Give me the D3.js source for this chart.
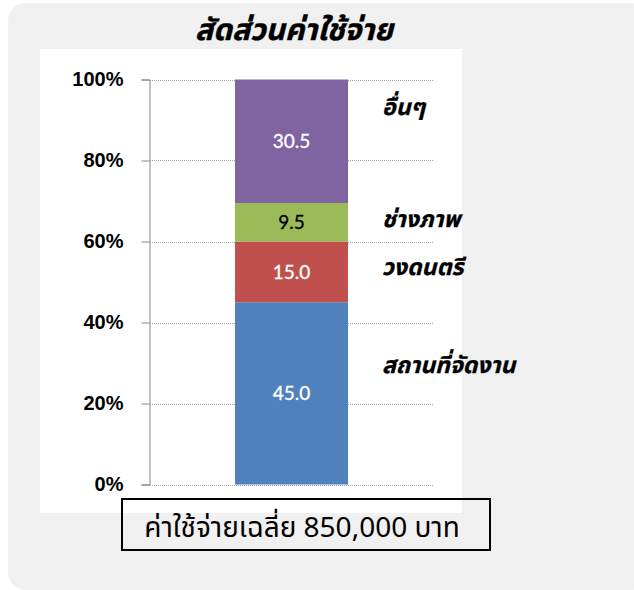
<!DOCTYPE html>
<html>
<head>
<meta charset="utf-8">
<script src="https://cdn.jsdelivr.net/npm/d3@7"></script>
<style>
  html, body { margin: 0; padding: 0; background: #ffffff; }
  svg { display: block; }
</style>
</head>
<body>
<svg id="chart" width="634" height="590"></svg>
<script>
// Expense breakdown, one 100% stacked column
const title = "สัดส่วนค่าใช้จ่าย";
const categories = ["สถานที่จัดงาน", "วงดนตรี", "ช่างภาพ", "อื่นๆ"];
const values = [45.0, 15.0, 9.5, 30.5];
const colors = ["#4F81BD", "#C0504D", "#9BBB59", "#8064A2"];
const valueTextColors = ["#ffffff", "#ffffff", "#000000", "#ffffff"];
const yTicks = [0, 20, 40, 60, 80, 100];
const caption = "ค่าใช้จ่ายเฉลี่ย 850,000 บาท";

// where each category name sits beside the column, in axis units (%)
const nameAt = [27.5, 51.7, 63.7, 91.2];

const thaiFont = "Tahoma, 'Noto Sans Thai', 'Noto Sans', 'DejaVu Sans', sans-serif";

const svg = d3.select("#chart");

// rounded grey panel and white plot area
svg.append("rect")
  .attr("x", 8).attr("y", 3).attr("width", 640).attr("height", 587)
  .attr("rx", 18).attr("ry", 18)
  .attr("fill", "#f0f0f0");
svg.append("rect")
  .attr("x", 40).attr("y", 49).attr("width", 422).attr("height", 464)
  .attr("fill", "#ffffff");

svg.append("text")
  .attr("x", 294).attr("y", 40)
  .attr("text-anchor", "middle")
  .attr("font-family", thaiFont)
  .attr("font-size", 30).attr("font-weight", "bold").attr("font-style", "italic")
  .attr("fill", "#000")
  .attr("stroke", "#000").attr("stroke-width", 0.4)
  .text(title);

const y = d3.scaleLinear().domain([0, 100]).range([484.5, 79.5]);
const x = d3.scaleBand().domain(["all"]).range([150, 433]).paddingOuter(0.752).paddingInner(0);

// dotted gridlines
svg.append("g")
  .selectAll("line")
  .data(yTicks)
  .join("line")
  .attr("x1", 150).attr("x2", 433)
  .attr("y1", d => Math.round(y(d)) + 0.5).attr("y2", d => Math.round(y(d)) + 0.5)
  .attr("stroke", "#a6a6a6").attr("stroke-width", 1)
  .attr("stroke-dasharray", "1,1");

// stacked segments
let acc = 0;
const stacked = values.map((v, i) => {
  const s = { i, v, y0: acc, y1: acc + v };
  acc += v;
  return s;
});

svg.append("g")
  .selectAll("rect")
  .data(stacked)
  .join("rect")
  .attr("x", x("all"))
  .attr("width", x.bandwidth())
  .attr("y", d => y(d.y1))
  .attr("height", d => y(d.y0) - y(d.y1))
  .attr("fill", d => colors[d.i]);

// value labels
svg.append("g")
  .selectAll("text")
  .data(stacked)
  .join("text")
  .attr("x", x("all") + x.bandwidth() / 2)
  .attr("y", d => y((d.y0 + d.y1) / 2))
  .attr("dy", "0.36em")
  .attr("text-anchor", "middle")
  .attr("font-family", "Lato, 'Open Sans', sans-serif")
  .attr("font-size", 19)
  .attr("fill", d => valueTextColors[d.i])
  .attr("stroke", d => valueTextColors[d.i]).attr("stroke-width", 0.3)
  .text(d => d.v.toFixed(1));

// y axis
const axis = d3.axisLeft(y)
  .tickValues(yTicks)
  .tickFormat(d => d + "%")
  .tickSize(8)
  .tickPadding(18);
const gAxis = svg.append("g")
  .attr("transform", "translate(149.5,0)")
  .call(axis);
gAxis.select(".domain").attr("stroke", "#868686");
gAxis.selectAll(".tick line").attr("stroke", "#868686");
gAxis.selectAll(".tick text")
  .attr("font-family", "'Liberation Sans', Arial, sans-serif")
  .attr("font-size", 20).attr("font-weight", "bold")
  .attr("fill", "#000");

// category names beside the column
svg.append("g")
  .selectAll("text")
  .data(categories)
  .join("text")
  .attr("x", 382)
  .attr("y", (d, i) => y(nameAt[i]))
  .attr("font-family", thaiFont)
  .attr("font-size", 23).attr("font-weight", "bold").attr("font-style", "italic")
  .attr("fill", "#000")
  .attr("stroke", "#000").attr("stroke-width", 0.3)
  .text(d => d);

// caption box
svg.append("rect")
  .attr("x", 122).attr("y", 499).attr("width", 368).attr("height", 51)
  .attr("fill", "none").attr("stroke", "#000").attr("stroke-width", 2);
svg.append("text")
  .attr("x", 302).attr("y", 537)
  .attr("text-anchor", "middle")
  .attr("font-family", thaiFont)
  .attr("font-size", 28)
  .attr("fill", "#000")
  .text(caption);
</script>
</body>
</html>
